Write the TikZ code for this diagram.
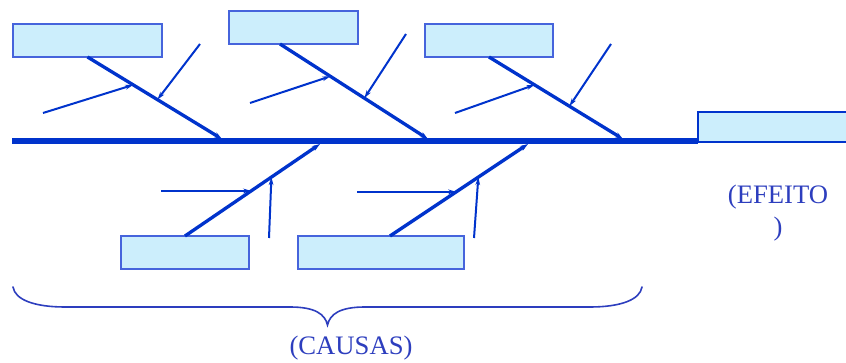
\documentclass[tikz,border=0pt]{standalone}
\usepackage{fontspec}
\setmainfont{Liberation Serif}
\usetikzlibrary{arrows.meta,calc}

\definecolor{bonecol}{RGB}{0,51,204}
\definecolor{boxfill}{RGB}{204,238,252}
\definecolor{boxline}{RGB}{70,100,220}
\definecolor{labelcol}{RGB}{45,62,190}

\begin{document}
\begin{tikzpicture}[x=0.75pt,y=-0.75pt,
  causebox/.style={draw=boxline,fill=boxfill,line width=1pt,
    minimum height=24.75pt,inner sep=0pt,outer sep=0pt},
  effectbox/.style={draw=bonecol,fill=boxfill,line width=1.9pt,
    minimum height=22.5pt,minimum width=121.5pt,inner sep=0pt,outer sep=0pt},
  spine/.style={draw=bonecol,line width=4.2pt},
  bone/.style={draw=bonecol,line width=2.5pt,-{Stealth[length=6pt,width=4pt]}},
  twig/.style={draw=bonecol,line width=1.5pt,-{Stealth[length=6pt,width=3.5pt]}},
  label/.style={text=labelcol,font=\fontsize{20}{24}\selectfont,inner sep=0pt,align=center},
  brace/.style={draw=labelcol,line width=1.2pt,line cap=round}]

\useasboundingbox (0,0) rectangle (846,363);
\clip (0,0) rectangle (846,363);

% cause boxes
\node[causebox,minimum width=111.75pt] (box1) at (87.5,40.5) {};
\node[causebox,minimum width=96.75pt]  (box2) at (293.5,27.5) {};
\node[causebox,minimum width=96pt]     (box3) at (489,40.5) {};
\node[causebox,minimum width=96pt]     (box4) at (185,252.5) {};
\node[causebox,minimum width=124.5pt]  (box5) at (381,252.5) {};

% effect box (runs past the right edge)
\node[effectbox] (effect) at (779,127) {};

% spine
\coordinate (tail) at (12,141);
\draw[spine] (tail) -- (effect.south west |- tail);

% points where the bones meet the spine
\coordinate (s1) at (222,139);
\coordinate (s2) at (428,139);
\coordinate (s3) at (623,139);
\coordinate (s4) at (320,144);
\coordinate (s5) at (528,144);

% bones
\draw[bone] (box1.south) -- (s1);
\draw[bone] ($(box2.south)+(-13.5,0)$) -- (s2);
\draw[bone] (box3.south) -- (s3);
\draw[bone] (box4.north) -- (s4);
\draw[bone] ($(box5.north)+(9,0)$) -- (s5);

% points on the bones where the secondary causes arrive
\path (box1.south) -- coordinate[pos=0.34] (b1a) coordinate[pos=0.52] (b1b) (s1);
\path ($(box2.south)+(-13.5,0)$) -- coordinate[pos=0.34] (b2a) coordinate[pos=0.57] (b2b) (s2);
\path (box3.south) -- coordinate[pos=0.34] (b3a) coordinate[pos=0.6] (b3b) (s3);
\path (box4.north) -- coordinate[pos=0.49] (b4a) coordinate[pos=0.64] (b4b) (s4);
\path ($(box5.north)+(9,0)$) -- coordinate[pos=0.48] (b5a) coordinate[pos=0.64] (b5b) (s5);

% free ends of the secondary arrows
\coordinate (t1a) at (43,113);
\coordinate (t1b) at (200,44);
\coordinate (t2a) at (250,103);
\coordinate (t2b) at (406,34);
\coordinate (t3a) at (455,113);
\coordinate (t3b) at (611,44);
\coordinate (t4a) at (161,0);
\coordinate (t4b) at (269,238);
\coordinate (t5a) at (357,0);
\coordinate (t5b) at (474,238);

% secondary arrows
\draw[twig] (t1a) -- (b1a);
\draw[twig] (t1b) -- (b1b);
\draw[twig] (t2a) -- (b2a);
\draw[twig] (t2b) -- (b2b);
\draw[twig] (t3a) -- (b3a);
\draw[twig] (t3b) -- (b3b);
\draw[twig] (t4a |- b4a) -- (b4a);
\draw[twig] (t4b) -- (b4b);
\draw[twig] (t5a |- b5a) -- (b5a);
\draw[twig] (t5b) -- (b5b);

% brace gathering the causes
\coordinate (bl) at (13,287);
\coordinate (br) at (642,287);
\coordinate (btip) at (327.5,325);
\draw[brace] (bl) .. controls (15,300) and (35,307) .. (65,307)
  -- (290,307) .. controls (315,307) and (325,314) .. (btip)
  .. controls (330,314) and (340,307) .. (365,307)
  -- (590,307) .. controls (620,307) and (640,300) .. (br);

% labels
\node[label] (causas) at (351,348) {(CAUSAS)};
\node[label] (efeito) at (778,213) {(EFEITO\\)};

\end{tikzpicture}
\end{document}
